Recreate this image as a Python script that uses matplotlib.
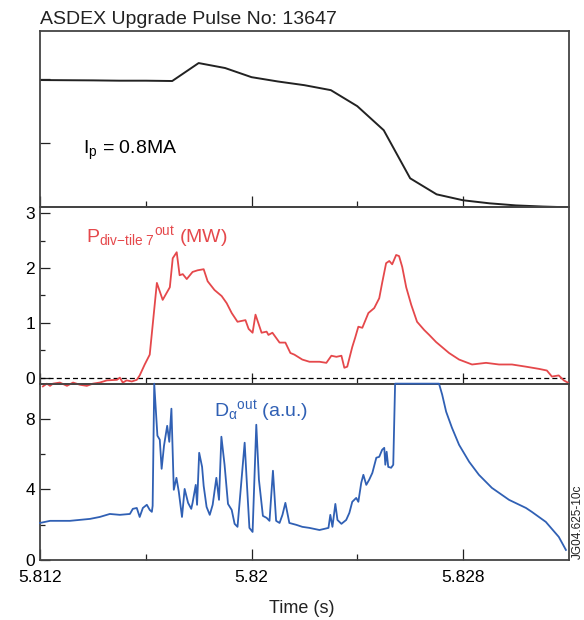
import matplotlib
matplotlib.use("Agg")
import matplotlib.pyplot as plt
from matplotlib.ticker import FixedLocator, FixedFormatter

plt.rcParams['font.family'] = ['Liberation Sans', 'DejaVu Sans']
plt.rcParams['mathtext.fontset'] = 'custom'
plt.rcParams['mathtext.rm'] = 'Liberation Sans'
plt.rcParams['mathtext.it'] = 'Liberation Sans'
plt.rcParams['mathtext.bf'] = 'Liberation Sans:bold'

# plasma current (MA)
ip_time = [5.812, 5.813, 5.814, 5.815, 5.816, 5.817, 5.818, 5.819, 5.820, 5.821,
           5.822, 5.823, 5.824, 5.825, 5.826, 5.827, 5.828, 5.829, 5.830, 5.831, 5.832]
ip_val = [0.794, 0.793, 0.792, 0.790, 0.790, 0.788, 0.900, 0.869, 0.812, 0.785,
          0.762, 0.731, 0.631, 0.481, 0.181, 0.081, 0.044, 0.025, 0.012, 0.005, 0.0]

# divertor tile 7 power (MW)
p_time = [5.81211, 5.81226, 5.81238, 5.81249, 5.81275, 5.81302, 5.81325, 5.81351, 5.81377, 5.81400,
          5.81426, 5.81453, 5.81491, 5.81502, 5.81513, 5.81528, 5.81547, 5.81566, 5.81577, 5.81596,
          5.81615, 5.81642, 5.81664, 5.81691, 5.81702, 5.81717, 5.81728, 5.81740, 5.81755, 5.81777,
          5.81796, 5.81819, 5.81834, 5.81860, 5.81887, 5.81906, 5.81925, 5.81947, 5.81977, 5.81989,
          5.82004, 5.82015, 5.82038, 5.82057, 5.82064, 5.82079, 5.82106, 5.82128, 5.82147, 5.82162,
          5.82192, 5.82219, 5.82257, 5.82283, 5.82302, 5.82321, 5.82340, 5.82351, 5.82362, 5.82381,
          5.82392, 5.82404, 5.82419, 5.82442, 5.82464, 5.82483, 5.82494, 5.82509, 5.82521, 5.82532,
          5.82547, 5.82558, 5.82570, 5.82585, 5.82604, 5.82626, 5.82653, 5.82672, 5.82698, 5.82747,
          5.82785, 5.82834, 5.82887, 5.82936, 5.82985, 5.83038, 5.83087, 5.83117, 5.83136, 5.83162,
          5.83181, 5.83196]
p_val = [-0.16, -0.11, -0.15, -0.11, -0.09, -0.15, -0.09, -0.13, -0.15, -0.11,
         -0.09, -0.05, -0.04, 0.00, -0.09, -0.05, -0.07, -0.04, 0.04, 0.24,
         0.42, 1.73, 1.42, 1.65, 2.18, 2.29, 1.87, 1.89, 1.80, 1.93,
         1.96, 1.98, 1.76, 1.60, 1.49, 1.36, 1.18, 1.02, 1.05, 0.89,
         0.82, 1.15, 0.82, 0.84, 0.78, 0.82, 0.64, 0.64, 0.45, 0.42,
         0.33, 0.29, 0.29, 0.27, 0.40, 0.38, 0.40, 0.18, 0.20, 0.56,
         0.73, 0.93, 0.91, 1.18, 1.27, 1.45, 1.73, 2.09, 2.13, 2.07,
         2.24, 2.22, 2.02, 1.65, 1.33, 1.02, 0.87, 0.78, 0.65, 0.45,
         0.33, 0.24, 0.27, 0.24, 0.24, 0.20, 0.16, 0.13, 0.02, 0.04,
         -0.05, -0.09]

# D-alpha (a.u.)
d_time = [5.81200, 5.81238, 5.81313, 5.81389, 5.81426, 5.81464, 5.81502, 5.81540, 5.81551, 5.81566,
          5.81577, 5.81589, 5.81604, 5.81615, 5.81623, 5.81626, 5.81632, 5.81644, 5.81653, 5.81660,
          5.81669, 5.81681, 5.81689, 5.81697, 5.81706, 5.81716, 5.81725, 5.81737, 5.81747, 5.81760,
          5.81772, 5.81777, 5.81789, 5.81794, 5.81802, 5.81813, 5.81819, 5.81830, 5.81842, 5.81853,
          5.81867, 5.81877, 5.81886, 5.81898, 5.81911, 5.81925, 5.81936, 5.81947, 5.81974, 5.81981,
          5.81992, 5.82004, 5.82018, 5.82028, 5.82043, 5.82057, 5.82068, 5.82081, 5.82093, 5.82106,
          5.82117, 5.82128, 5.82143, 5.82170, 5.82192, 5.82219, 5.82257, 5.82291, 5.82298, 5.82306,
          5.82317, 5.82325, 5.82340, 5.82358, 5.82370, 5.82381, 5.82396, 5.82404, 5.82415, 5.82423,
          5.82434, 5.82445, 5.82457, 5.82472, 5.82483, 5.82494, 5.82502, 5.82506, 5.82511, 5.82517,
          5.82528, 5.82536, 5.82543, 5.82709, 5.82721, 5.82736, 5.82758, 5.82785, 5.82823, 5.82860,
          5.82909, 5.82974, 5.83038, 5.83060, 5.83113, 5.83162, 5.83189]
d_val = [2.10, 2.22, 2.22, 2.33, 2.44, 2.61, 2.56, 2.61, 2.90, 2.95,
         2.44, 2.95, 3.13, 2.84, 2.73, 3.07, 10.0, 7.05, 6.82, 5.17,
         6.48, 7.61, 6.70, 8.58, 3.98, 4.66, 3.86, 2.44, 4.03, 3.24,
         2.90, 3.24, 4.26, 3.13, 6.08, 5.28, 4.20, 3.01, 2.56, 3.13,
         4.66, 3.41, 6.99, 5.40, 3.18, 2.84, 2.05, 1.88, 6.65, 4.72,
         1.82, 1.59, 7.67, 4.55, 2.50, 2.39, 2.22, 5.06, 2.22, 2.10,
         2.56, 3.24, 2.10, 1.99, 1.88, 1.82, 1.70, 1.82, 2.56, 1.88,
         3.18, 2.27, 2.05, 2.27, 2.67, 3.30, 3.52, 3.30, 4.38, 4.83,
         4.26, 4.55, 4.94, 5.80, 5.85, 6.25, 6.36, 5.40, 6.14, 5.28,
         5.23, 5.40, 10.0, 10.0, 9.38, 8.41, 7.50, 6.53, 5.57, 4.83,
         4.09, 3.41, 2.95, 2.73, 2.16, 1.31, 0.57]

x_major = [5.812, 5.820, 5.828]
x_minor = [5.816, 5.824]
x_labels = ['5.812', '5.82', '5.828']

fig, (ax1, ax2, ax3) = plt.subplots(3, 1, sharex=True, figsize=(5.84, 6.2), dpi=100,
                                    gridspec_kw=dict(hspace=0))
fig.subplots_adjust(left=0.0685, right=0.974, top=0.95, bottom=0.0968)

red = '#e5484b'
blue = '#3060b4'

ax1.plot(ip_time, ip_val, color='#222222', lw=1.4)
ax1.set_ylim(0, 1.1)
ax1.set_yticks([0.4, 0.8])
ax1.set_yticklabels([])
ax1.text(5.81362, 0.33, r'$\mathrm{I_p}$ = 0.8MA', fontsize=14, ha='left', va='baseline')

ax2.plot(p_time, p_val, color=red, lw=1.3, clip_on=False, zorder=5)
ax2.axhline(0, color='black', lw=0.9, ls=(0, (4, 2.5)))
ax2.set_ylim(-0.11, 3.11)
ax2.set_yticks([0, 1, 2, 3])
ax2.yaxis.set_minor_locator(FixedLocator([0.5, 1.5, 2.5]))
ax2.text(5.81374, 2.46, '$\\mathrm{P_{\\text{div\u2212tile 7}}{}^{out}}$ (MW)', color=red,
         fontsize=14, ha='left', va='baseline')

ax3.plot(d_time, d_val, color=blue, lw=1.3, clip_on=False, zorder=5)
ax3.set_ylim(0, 10)
ax3.set_yticks([0, 4, 8])
ax3.yaxis.set_minor_locator(FixedLocator([2, 6]))
ax3.text(5.81857, 8.09, r'$\mathrm{D_{\alpha}{}^{out}}$ (a.u.)', color=blue,
         fontsize=14, ha='left', va='baseline')

ax3.set_xlim(5.812, 5.832)
ax3.xaxis.set_major_locator(FixedLocator(x_major))
ax3.xaxis.set_major_formatter(FixedFormatter(x_labels))
ax3.xaxis.set_minor_locator(FixedLocator(x_minor))

for ax in (ax1, ax2, ax3):
    ax.patch.set_alpha(0)
    for s in ax.spines.values():
        s.set_color('#444444')
        s.set_linewidth(1.3)
    ax.tick_params(axis='x', which='major', direction='in', length=8, width=0.9,
                   color='#222222', labelsize=12.5, pad=7.5)
    ax.tick_params(axis='x', which='minor', direction='in', length=4.3, width=0.9,
                   color='#222222')
    ax.tick_params(axis='y', which='major', direction='in', length=7, width=0.9,
                   color='#222222', labelsize=12.5, pad=3.5)
    ax.tick_params(axis='y', which='minor', direction='in', length=3.6, width=0.9,
                   color='#222222')

fig.text(40 / 584, 0.961, 'ASDEX Upgrade Pulse No: 13647', fontsize=14,
         ha='left', va='baseline', color='#222222')
fig.text(0.516, 0.0118, 'Time (s)', fontsize=13, ha='center', va='baseline', color='#222222')
fig.text(578 / 584, 0.158, 'JG04.625-10c', fontsize=8.5, rotation=90,
         ha='center', va='center', color='#222222')

fig.savefig('out.png', dpi=100)
